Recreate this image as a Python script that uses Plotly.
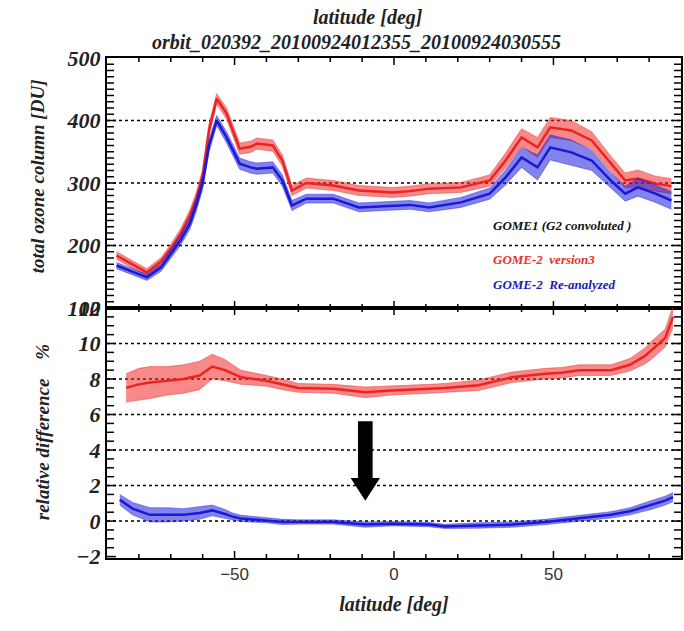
import plotly.graph_objects as go
from plotly.subplots import make_subplots

# ---------------- data ----------------
lat_top = [-87, -82, -77.5, -73, -70, -67, -64, -62, -60, -58, -55.6, -52.5, -48.4, -45, -43, -38,
           -35, -32, -27.5, -19, -11, -0.5, 5, 11, 21, 30, 35, 40, 45, 49, 55.6, 62, 68, 72.5,
           76.5, 82, 87]
ozone_v3 = [184, 170, 157, 175, 195, 218, 248, 275, 312, 385, 435, 411, 355, 358, 363, 360,
            336, 288, 300, 296, 288, 285, 287, 291, 293, 304, 336, 373, 357, 389, 384, 368, 331, 304,
            307, 299, 295]
ozone_v3_spread = [6, 6, 6, 6, 7, 8, 9, 10, 10, 10, 8, 9, 9, 9, 9, 9,
                   9, 8, 8, 8, 8, 8, 8, 8, 8, 9, 12, 14, 16, 16, 16, 14, 12, 12,
                   14, 12, 12]
ozone_re = [168, 158, 149, 165, 187, 208, 235, 265, 300, 360, 400, 373, 331, 325, 323, 325,
            304, 264, 275, 275, 261, 264, 265, 261, 269, 283, 309, 341, 325, 357, 349, 336, 304, 283,
            293, 283, 272]
ozone_re_spread = [5, 5, 5, 6, 7, 8, 9, 10, 10, 10, 8, 9, 9, 9, 9, 9,
                   9, 8, 7, 7, 7, 7, 7, 7, 8, 9, 12, 16, 20, 20, 20, 16, 12, 12,
                   14, 14, 14]

lat_diff_v3 = [-84, -80, -76.5, -71, -66, -61, -57, -53, -50.6, -48, -40, -35, -30, -19, -9, -0.6,
               11, 16, 26.5, 37, 47.5, 52.5, 58, 68, 74, 78.7, 80.6, 85, 87.5]
diff_v3 = [7.5, 7.7, 7.8, 7.9, 8.0, 8.2, 8.7, 8.5, 8.3, 8.1, 7.9, 7.7, 7.5, 7.45, 7.25, 7.35,
           7.45, 7.5, 7.65, 8.1, 8.3, 8.35, 8.5, 8.5, 8.8, 9.3, 9.6, 10.3, 11.5]
diff_v3_spread = [0.8, 0.9, 0.9, 0.8, 0.8, 0.8, 0.7, 0.6, 0.5, 0.4, 0.3, 0.3, 0.25, 0.25, 0.3, 0.25,
                  0.25, 0.25, 0.3, 0.3, 0.3, 0.3, 0.3, 0.3, 0.35, 0.45, 0.5, 0.5, 0.6]

lat_diff_re = [-86, -82, -76.5, -71, -66, -61, -57, -53, -50.6, -48, -40, -35, -30, -19, -9, -0.6,
               11, 16, 26.5, 37, 47.5, 52.5, 58, 68, 74, 78.7, 80.6, 85, 87.5]
diff_re = [1.2, 0.7, 0.35, 0.35, 0.35, 0.45, 0.6, 0.4, 0.25, 0.15, 0.05, -0.05, -0.05, -0.05, -0.2, -0.15,
           -0.2, -0.3, -0.25, -0.2, -0.05, 0.05, 0.15, 0.35, 0.55, 0.8, 0.9, 1.15, 1.35]
diff_re_spread = [0.3, 0.35, 0.4, 0.4, 0.35, 0.35, 0.3, 0.25, 0.2, 0.18, 0.15, 0.15, 0.12, 0.12, 0.15, 0.12,
                  0.12, 0.12, 0.15, 0.15, 0.15, 0.15, 0.15, 0.18, 0.2, 0.25, 0.25, 0.25, 0.25]

top_grid = [200, 300, 400]
bot_grid = [0, 2, 4, 6, 8, 10]

title_line1 = "latitude [deg]"
title_line2 = "orbit_020392_20100924012355_20100924030555"
legend_items = [("GOME1 (G2 convoluted )", "#111111"),
                ("GOME-2  version3", "#e8302c"),
                ("GOME-2  Re-analyzed", "#1a1ab4")]

RED = "rgb(235,35,35)"
RED_F = "rgba(240,40,40,0.55)"
BLUE = "rgb(25,25,215)"
BLUE_F = "rgba(30,30,220,0.55)"
SERIF = "Liberation Serif"

X_RANGE = [-90, 90]
Y1_RANGE = [100, 500]
Y2_RANGE = [-2.08, 12]

W, H = 684, 631
L, R, T, B = 107, 1, 58, 73
PW, PH = W - L - R, (H - T - B) / 2  # plot width, height of each panel in px

fig = make_subplots(rows=2, cols=1, shared_xaxes=True, vertical_spacing=0)


def band(x, c, s, row, line_col, fill_col):
    lo = [a - b for a, b in zip(c, s)]
    hi = [a + b for a, b in zip(c, s)]
    fig.add_trace(go.Scatter(x=x, y=lo, mode="lines", line=dict(color=fill_col, width=0.8),
                             showlegend=False, hoverinfo="skip"), row=row, col=1)
    fig.add_trace(go.Scatter(x=x, y=hi, mode="lines", line=dict(color=fill_col, width=0.8),
                             fill="tonexty", fillcolor=fill_col, showlegend=False,
                             hoverinfo="skip"), row=row, col=1)
    fig.add_trace(go.Scatter(x=x, y=c, mode="lines", line=dict(color=line_col, width=2.5),
                             showlegend=False), row=row, col=1)


band(lat_top, ozone_v3, ozone_v3_spread, 1, RED, RED_F)
band(lat_top, ozone_re, ozone_re_spread, 1, BLUE, BLUE_F)
band(lat_diff_v3, diff_v3, diff_v3_spread, 2, RED, RED_F)
band(lat_diff_re, diff_re, diff_re_spread, 2, BLUE, BLUE_F)


# frame tick marks (inside, on all four sides of each panel)
def tick_trace(yr, y_minor, y_major, row):
    xs, ys = [], []
    xpp = (X_RANGE[1] - X_RANGE[0]) / PW
    ypp = (yr[1] - yr[0]) / PH
    # x ticks every 10 deg, longer at -50, 0, 50
    for lat in range(-80, 90, 10):
        ln = (7 if lat % 50 == 0 else 4) * ypp
        xs += [lat, lat, None, lat, lat, None]
        ys += [yr[0], yr[0] + ln, None, yr[1], yr[1] - ln, None]
    # y ticks
    for v in y_minor:
        ln = (9 if v in y_major else 7) * xpp
        xs += [X_RANGE[0], X_RANGE[0] + ln, None, X_RANGE[1], X_RANGE[1] - ln, None]
        ys += [v, v, None, v, v, None]
    fig.add_trace(go.Scatter(x=xs, y=ys, mode="lines", line=dict(color="black", width=1.5),
                             showlegend=False, hoverinfo="skip", cliponaxis=False), row=row, col=1)


tick_trace(Y1_RANGE, [100 + 10 * i for i in range(1, 40)], [200, 300, 400], 1)
tick_trace(Y2_RANGE, [-2 + 0.5 * i for i in range(0, 28)], [-2, 0, 2, 4, 6, 8, 10], 2)

# dotted grid lines
for v in top_grid:
    fig.add_shape(type="line", xref="x domain", yref="y", x0=0, x1=1, y0=v, y1=v,
                  line=dict(color="black", width=1.5, dash="dot"), layer="below")
for v in bot_grid:
    fig.add_shape(type="line", xref="x2 domain", yref="y2", x0=0, x1=1, y0=v, y1=v,
                  line=dict(color="black", width=1.5, dash="dot"), layer="below")

# black arrow in the lower panel
ax_c, ax_w, ah_w = -9.0, 2.3, 4.6
y_top, y_neck, y_tip = 5.62, 2.42, 1.15
path = (f"M {ax_c-ax_w},{y_top} L {ax_c+ax_w},{y_top} L {ax_c+ax_w},{y_neck} "
        f"L {ax_c+ah_w},{y_neck} L {ax_c},{y_tip} L {ax_c-ah_w},{y_neck} "
        f"L {ax_c-ax_w},{y_neck} Z")
fig.add_shape(type="path", xref="x2", yref="y2", path=path, fillcolor="black",
              line=dict(color="black", width=0))

ylab_font = dict(family=SERIF, size=22, color="#222", weight="bold", style="italic")

for ax in ["xaxis", "xaxis2", "yaxis", "yaxis2"]:
    fig.layout[ax].update(showline=True, linecolor="black", linewidth=2, mirror=True,
                          ticks="", showgrid=False, zeroline=False)

fig.update_xaxes(range=X_RANGE, tickmode="linear", tick0=0, dtick=50)
fig.update_xaxes(showticklabels=False, row=1, col=1)
fig.update_xaxes(showticklabels=True, row=2, col=1,
                 tickfont=dict(family="Liberation Sans", size=17, color="#333333"),
                 title=dict(text="latitude [deg]",
                            font=dict(family=SERIF, size=20, color="#222", weight="bold", style="italic"),
                            standoff=14))

fig.update_yaxes(row=1, col=1, range=Y1_RANGE, tickmode="linear", tick0=100, dtick=100,
                 tickfont=ylab_font)
fig.update_yaxes(row=2, col=1, range=Y2_RANGE, tickmode="linear", tick0=0, dtick=2,
                 tickfont=ylab_font)


def px(xp):
    return (xp - L) / PW


def py(yp):
    return 1 - (yp - T) / (H - T - B)


ann = []
tfont = dict(family=SERIF, size=20, color="#222", weight="bold", style="italic")
ann.append(dict(text=title_line1, x=px(369), y=py(18), xref="paper", yref="paper",
                showarrow=False, font=tfont, xanchor="center", yanchor="middle"))
ann.append(dict(text=title_line2, x=px(357), y=py(42), xref="paper", yref="paper",
                showarrow=False, font=tfont, xanchor="center", yanchor="middle"))
afont = dict(family=SERIF, size=19, color="#222", weight="bold", style="italic")
ann.append(dict(text="total ozone column [DU]", x=px(37), y=py(176), xref="paper",
                yref="paper", showarrow=False, textangle=-90, font=afont,
                xanchor="center", yanchor="middle"))
ann.append(dict(text="relative difference    %", x=px(42), y=py(432), xref="paper",
                yref="paper", showarrow=False, textangle=-90, font=afont,
                xanchor="center", yanchor="middle"))
for (txt, col), yp in zip(legend_items, [225, 259, 284]):
    ann.append(dict(text=txt, x=px(492), y=py(yp), xref="paper", yref="paper",
                    showarrow=False,
                    font=dict(family=SERIF, size=13, color=col, weight="bold", style="italic"),
                    xanchor="left", yanchor="middle"))

fig.update_layout(width=W, height=H, margin=dict(l=L, r=R, t=T, b=B),
                  plot_bgcolor="white", paper_bgcolor="white", showlegend=False,
                  annotations=ann)

fig.write_html("out.html")
